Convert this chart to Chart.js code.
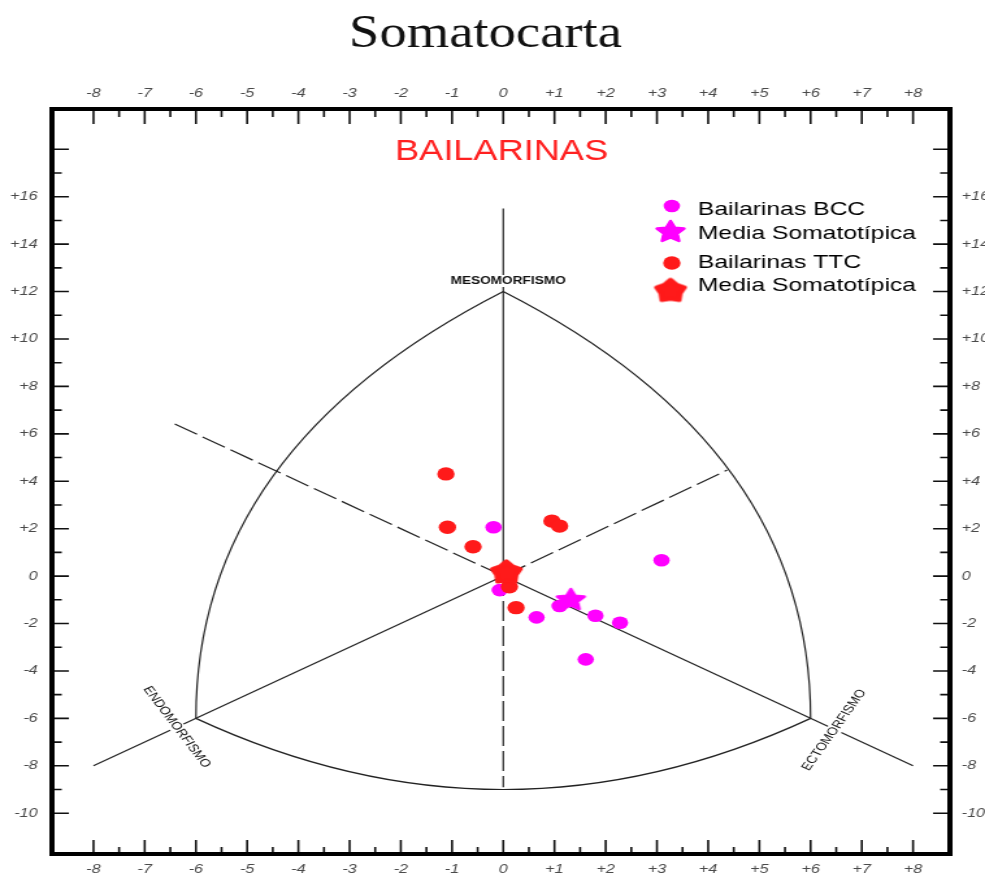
<!DOCTYPE html>
<html>
<head>
<meta charset="utf-8">
<title>Somatocarta</title>
<script src="https://cdn.jsdelivr.net/npm/chart.js@4.4.1/dist/chart.umd.min.js"></script>
<style>
  html, body { margin: 0; padding: 0; background: #fff; }
  #chart { display: block; }
</style>
</head>
<body>
<!-- the original picture is stretched sideways: draw narrow, widen with css -->
<canvas id="chart" width="758" height="875" style="width:985px;height:875px"></canvas>
<script>
// Bailarinas BCC (magenta)
const BCC_X = [-0.19, 3.09, -0.07, 0.65, 1.80, 2.28, 1.61, 1.10];
const BCC_Y = [2.06, 0.67, -0.59, -1.74, -1.67, -1.97, -3.51, -1.26];
const BCC_MEAN = [1.32, -1.01];

// Bailarinas TTC (rojo)
const TTC_X = [-1.12, -1.09, -0.59, 0.95, 1.10, 0.12, 0.25];
const TTC_Y = [4.31, 2.06, 1.24, 2.32, 2.11, -0.45, -1.33];
const TTC_MEAN = [0.06, 0.15];

// ejes
const X_TICKS = [-8, -7, -6, -5, -4, -3, -2, -1, 0, 1, 2, 3, 4, 5, 6, 7, 8];
const X_LABELS = ['-8', '-7', '-6', '-5', '-4', '-3', '-2', '-1', '0',
  '+1', '+2', '+3', '+4', '+5', '+6', '+7', '+8'];
const Y_TICKS = [-10, -8, -6, -4, -2, 0, 2, 4, 6, 8, 10, 12, 14, 16];
const Y_LABELS = ['-10', '-8', '-6', '-4', '-2', '0', '+2', '+4', '+6', '+8',
  '+10', '+12', '+14', '+16'];
const Y_MARK_RANGE = [-10, 18];

// plantilla de la somatocarta (unidades del grafico)
const MESO_POINT = [0, 12];
const ENDO_POINT = [-6, -6];
const ECTO_POINT = [6, -6];
const LEFT_ARC_CTRL = [-6, 5.4];
const RIGHT_ARC_CTRL = [6, 5.4];
const BOTTOM_ARC_CTRL = [0, -12];
const SOLID_AXES = [[[0, 15.5], [0, 0]], [[-8, -8], [0, 0]], [[8, -8], [0, 0]]];
const DASHED_AXES = [[[0, 0], [0, -8.9]], [[0, 0], [4.37, 4.47]], [[0, 0], [-6.46, 6.46]]];

const COLORS = {
  bcc: '#ff00ff',
  ttc: '#ff1a1a',
  title: '#ff2020',
  ink: '#222',
  tick: '#4a4a4a'
};

const FONT = "'Liberation Sans', Arial, sans-serif";

// marcadores
function starImage(color, points, outer, inner, stroke) {
  const c = document.createElement('canvas');
  const s = Math.ceil(outer * 2 + 6);
  c.width = s;
  c.height = s;
  const g = c.getContext('2d');
  g.translate(s / 2, s / 2);
  g.beginPath();
  for (let i = 0; i < points * 2; i++) {
    const r = i % 2 ? inner : outer;
    const ang = i * Math.PI / points;
    g.lineTo(r * Math.sin(ang), -r * Math.cos(ang));
  }
  g.closePath();
  g.fillStyle = color;
  g.fill();
  g.lineJoin = 'round';
  g.lineWidth = stroke;
  g.strokeStyle = color;
  g.stroke();
  return c;
}

const BCC_STAR = starImage(COLORS.bcc, 5, 11, 5.4, 2.5);
const TTC_STAR = starImage(COLORS.ttc, 5, 11.5, 8, 3.5);

const toPoints = (xs, ys) => xs.map((x, i) => ({ x: x, y: ys[i] }));

// texto ajustado a un ancho
function fitText(ctx, text, x, y, font, width, color) {
  ctx.save();
  ctx.font = font;
  ctx.fillStyle = color;
  ctx.textAlign = 'center';
  ctx.textBaseline = 'alphabetic';
  const w = ctx.measureText(text).width;
  ctx.translate(x, y);
  ctx.scale(width / w, 1);
  ctx.fillText(text, 0, 0);
  ctx.restore();
}

function boxedLabel(ctx, text, x, y, angle, font) {
  ctx.save();
  ctx.translate(x, y);
  ctx.rotate(angle);
  ctx.font = font;
  const w = ctx.measureText(text).width;
  ctx.fillStyle = '#fff';
  ctx.fillRect(-w / 2 - 2, -6, w + 4, 12);
  ctx.fillStyle = '#111';
  ctx.textAlign = 'center';
  ctx.textBaseline = 'middle';
  ctx.fillText(text, 0, 0);
  ctx.restore();
}

const somatoPlugin = {
  id: 'somato',
  beforeDatasetsDraw(chart) {
    const { ctx, chartArea: a, scales: { x, y } } = chart;
    const px = p => [x.getPixelForValue(p[0]), y.getPixelForValue(p[1])];

    ctx.save();
    ctx.beginPath();
    ctx.rect(a.left, a.top, a.right - a.left, a.bottom - a.top);
    ctx.clip();
    ctx.strokeStyle = COLORS.ink;
    ctx.lineWidth = 1.2;

    // arcos
    [[ENDO_POINT, LEFT_ARC_CTRL, MESO_POINT],
     [ECTO_POINT, RIGHT_ARC_CTRL, MESO_POINT],
     [ENDO_POINT, BOTTOM_ARC_CTRL, ECTO_POINT]].forEach(([p0, c, p2]) => {
      const s = px(p0), k = px(c), e = px(p2);
      ctx.beginPath();
      ctx.moveTo(s[0], s[1]);
      ctx.quadraticCurveTo(k[0], k[1], e[0], e[1]);
      ctx.stroke();
    });

    const seg = (pair, dash) => {
      const s = px(pair[0]), e = px(pair[1]);
      ctx.setLineDash(dash);
      ctx.beginPath();
      ctx.moveTo(s[0], s[1]);
      ctx.lineTo(e[0], e[1]);
      ctx.stroke();
    };
    SOLID_AXES.forEach(p => seg(p, []));
    DASHED_AXES.forEach(p => seg(p, [20, 5]));
    ctx.setLineDash([]);

    boxedLabel(ctx, 'MESOMORFISMO', 391, 281, 0, 'bold 10.5px ' + FONT);
    boxedLabel(ctx, 'ENDOMORFISMO', 136, 727, 59.4 * Math.PI / 180, '11px ' + FONT);
    boxedLabel(ctx, 'ECTOMORFISMO', 642, 730, -60.9 * Math.PI / 180, '11px ' + FONT);
    ctx.restore();
  },
  afterDraw(chart) {
    const { ctx, chartArea: a, scales: { x, y } } = chart;
    ctx.save();

    // marcas de los ejes, hacia dentro
    ctx.strokeStyle = '#111';
    ctx.lineWidth = 1.6;
    ctx.beginPath();
    for (let v = X_TICKS[0]; v <= X_TICKS[X_TICKS.length - 1]; v += 0.5) {
      const major = Number.isInteger(v);
      const p = x.getPixelForValue(v);
      ctx.moveTo(p, a.top);
      ctx.lineTo(p, a.top + (major ? 15 : 8));
      ctx.moveTo(p, a.bottom);
      ctx.lineTo(p, a.bottom - (major ? 14 : 7));
    }
    for (let v = Y_MARK_RANGE[0]; v <= Y_MARK_RANGE[1]; v++) {
      const major = v % 2 === 0;
      const p = y.getPixelForValue(v);
      ctx.moveTo(a.left, p);
      ctx.lineTo(a.left + (major ? 13 : 7.5), p);
      ctx.moveTo(a.right, p);
      ctx.lineTo(a.right - (major ? 13 : 7.5), p);
    }
    ctx.stroke();

    // marco
    ctx.lineWidth = 4;
    ctx.strokeStyle = '#000';
    ctx.strokeRect(a.left, a.top, a.right - a.left, a.bottom - a.top);

    // titulos
    fitText(ctx, 'Somatocarta', 373.6, 47, "46px 'Liberation Serif', serif", 210, '#111');
    fitText(ctx, 'BAILARINAS', 386, 160, '29px ' + FONT, 164, COLORS.title);

    // leyenda
    const rows = [
      { ds: 3, my: 206, ty: 215 },
      { ds: 2, my: 232, ty: 239 },
      { ds: 1, my: 263, ty: 268 },
      { ds: 0, my: 291, ty: 291 }
    ];
    ctx.font = '19px ' + FONT;
    ctx.textAlign = 'left';
    ctx.textBaseline = 'alphabetic';
    rows.forEach(r => {
      const d = chart.data.datasets[r.ds];
      const mx = 516;
      if (typeof d.pointStyle === 'object') {
        ctx.drawImage(d.pointStyle, mx - d.pointStyle.width / 2, r.my - d.pointStyle.height / 2);
      } else {
        ctx.fillStyle = d.backgroundColor;
        ctx.beginPath();
        ctx.arc(mx + 1, r.my, d.pointRadius, 0, Math.PI * 2);
        ctx.fill();
      }
      ctx.fillStyle = '#000';
      ctx.fillText(d.label, 537, r.ty);
    });
    ctx.restore();
  }
};

function axis(min, max, extra) {
  return Object.assign({
    type: 'linear',
    min: min,
    max: max,
    grid: { display: false, drawTicks: false },
    border: { display: false }
  }, extra);
}

const tickFont = { family: FONT, style: 'italic', size: 12.5 };

const xTicks = pad => ({
  includeBounds: false,
  autoSkip: false,
  maxRotation: 0,
  padding: pad,
  color: COLORS.tick,
  font: tickFont,
  callback: (v, i) => X_LABELS[i]
});
const yTicks = pad => ({
  includeBounds: false,
  autoSkip: false,
  padding: pad,
  color: COLORS.tick,
  font: tickFont,
  callback: (v, i) => Y_LABELS[i]
});
const setX = s => { s.ticks = X_TICKS.map(v => ({ value: v })); };
const setY = s => { s.ticks = Y_TICKS.map(v => ({ value: v })); };

new Chart(document.getElementById('chart'), {
  type: 'scatter',
  data: {
    datasets: [
      {
        label: 'Media Somatotípica',
        data: [{ x: TTC_MEAN[0], y: TTC_MEAN[1] }],
        pointStyle: TTC_STAR,
        pointRadius: 6,
        backgroundColor: COLORS.ttc
      },
      {
        label: 'Bailarinas TTC',
        data: toPoints(TTC_X, TTC_Y),
        pointStyle: 'circle',
        pointRadius: 6.7,
        borderWidth: 0,
        backgroundColor: COLORS.ttc
      },
      {
        label: 'Media Somatotípica',
        data: [{ x: BCC_MEAN[0], y: BCC_MEAN[1] }],
        pointStyle: BCC_STAR,
        pointRadius: 6,
        backgroundColor: COLORS.bcc
      },
      {
        label: 'Bailarinas BCC',
        data: toPoints(BCC_X, BCC_Y),
        pointStyle: 'circle',
        pointRadius: 6.3,
        borderWidth: 0,
        backgroundColor: COLORS.bcc
      }
    ]
  },
  options: {
    responsive: false,
    animation: false,
    layout: { padding: 0 },
    plugins: { legend: { display: false }, tooltip: { enabled: false } },
    scales: {
      x: axis(-8.81, 8.72, {
        position: 'top', ticks: xTicks(8), afterBuildTicks: setX,
        afterFit: s => { s.height = 109; }
      }),
      xb: axis(-8.81, 8.72, {
        position: 'bottom', ticks: xTicks(8), afterBuildTicks: setX,
        afterFit: s => { s.height = 21; }
      }),
      y: axis(-11.72, 19.70, {
        position: 'left', ticks: yTicks(11), afterBuildTicks: setY,
        afterFit: s => { s.width = 40; }
      }),
      yr: axis(-11.72, 19.70, {
        position: 'right', ticks: yTicks(9), afterBuildTicks: setY,
        afterFit: s => { s.width = 27; }
      })
    }
  },
  plugins: [somatoPlugin]
});
</script>
</body>
</html>
